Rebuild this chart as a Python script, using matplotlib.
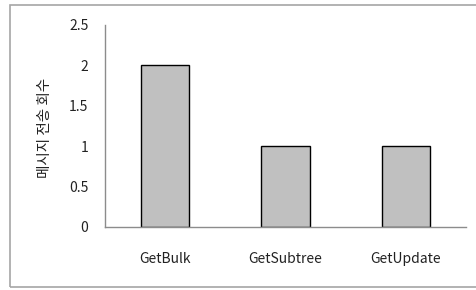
import matplotlib
matplotlib.use("Agg")
import matplotlib.pyplot as plt
from matplotlib.patches import Rectangle

plt.rcParams['font.family'] = ['Noto Sans CJK KR', 'DejaVu Sans']

categories = ["GetBulk", "GetSubtree", "GetUpdate"]
values = [2, 1, 1]
yticks = [0, 0.5, 1, 1.5, 2, 2.5]
ytick_labels = ["0", "0.5", "1", "1.5", "2", "2.5"]
ylabel = "메시지 전송 회수"

fig = plt.figure(figsize=(4.77, 2.90), dpi=100)
fig.patches.append(Rectangle((10/477, 3/290), 1.0, 282/290, transform=fig.transFigure,
                             fill=False, edgecolor="#a6a6a6", linewidth=1.2))
ax = fig.add_axes([105/477, 63/290, 361/477, 202/290])
x = range(len(categories))
ax.bar(x, values, width=0.4, color="#c0c0c0", edgecolor="black", linewidth=1.0)
ax.set_xlim(-0.5, len(categories) - 0.5)
ax.set_ylim(0, 2.5)
ax.set_yticks(yticks)
ax.set_yticklabels(ytick_labels)
ax.set_xticks(list(x))
ax.set_xticklabels(categories)
ax.tick_params(axis='both', length=0, labelsize=10, colors="#222222")
ax.tick_params(axis='y', pad=12)
ax.tick_params(axis='x', pad=18)
for s in ["top", "right"]:
    ax.spines[s].set_visible(False)
for s in ["left", "bottom"]:
    ax.spines[s].set_color("#8c8c8c")
    ax.spines[s].set_linewidth(1.0)
ax.set_ylabel(ylabel, fontsize=10.5, color="#222222", va="center")
ax.yaxis.set_label_coords((45 - 105) / 361, (227 - 128) / 202)
fig.savefig("out.png", dpi=100)
